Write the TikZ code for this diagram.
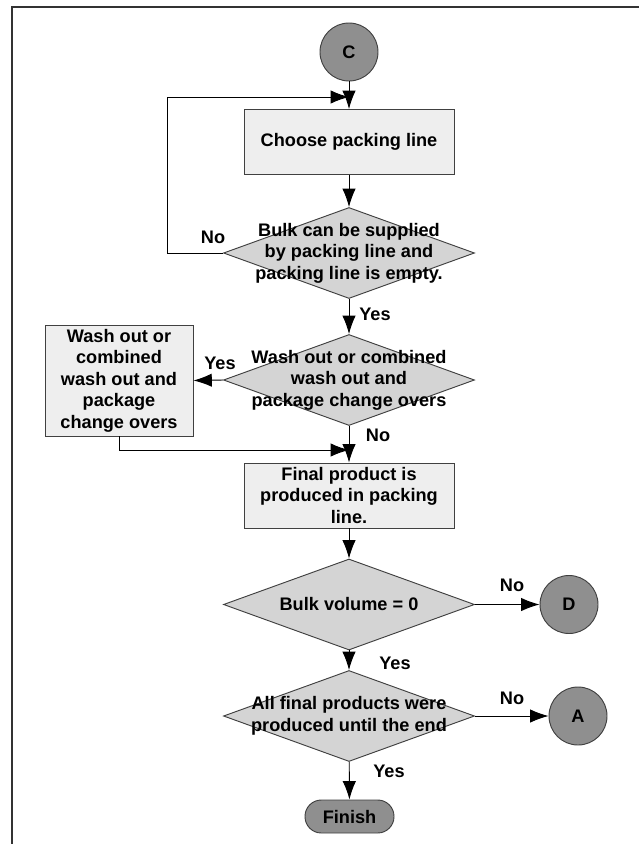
\documentclass[tikz,border=0pt]{standalone}
\usepackage{fontspec}
\setmainfont{Liberation Sans}
\usepackage{xcolor}
\usepackage{tikz}
\usetikzlibrary{shapes.geometric,arrows.meta}

\definecolor{conngray}{RGB}{143,143,143}
\definecolor{decgray}{RGB}{212,212,212}
\definecolor{boxgray}{RGB}{238,238,238}
\definecolor{edgegray}{RGB}{64,64,64}

\begin{document}
\begin{tikzpicture}[x=0.03cm, y=0.03cm,
    font=\fontsize{15.5pt}{18.4pt}\selectfont\bfseries,
    conn/.style={draw=edgegray, line width=0.8pt, circle, fill=conngray, minimum size=1.74cm, inner sep=0pt},
    procbox/.style={draw=edgegray, line width=0.8pt, fill=boxgray, minimum width=6.3cm, minimum height=1.95cm, align=center, inner sep=0pt},
    decision/.style={draw=edgegray, line width=0.8pt, diamond, fill=decgray, minimum width=7.53cm, minimum height=2.73cm, inner sep=0pt},
    txt/.style={align=center, inner sep=0pt},
    arr/.style={-{Latex[length=0.55cm, width=0.4cm]}, line width=0.8pt}]
            \useasboundingbox (0,0) rectangle (639,-844);
            \draw[line width=1.7pt, black!80] (12,-844) -- (12,-7) -- (639,-7);

            \node[conn] (c) at (349,-52) {C};
            \node[procbox] (choose) at (349,-142) {Choose packing line};
            \node[decision, label={[txt]center:{Bulk can be supplied\\by packing line and\\packing line is empty.}}] (supply) at (349,-253) {};
            \node[decision, label={[txt]center:{Wash out or combined\\wash out and\\package change overs}}] (washq) at (349,-380) {};
            \node[procbox, minimum width=4.44cm, minimum height=3.33cm] (wash) at (119,-380.5) {Wash out or\\combined\\wash out and\\package\\change overs};
            \node[procbox] (final) at (349,-495.5) {Final product is\\produced in packing\\line.};
            \node[decision, label={[txt]center:{Bulk volume = 0}}] (bulk) at (349,-604.5) {};
            \node[conn] (d) at (569,-604.5) {D};
            \node[decision, label={[txt]center:{All final products were\\produced until the end}}] (done) at (349,-716) {};
            \node[conn] (a) at (578,-716) {A};
            \node[draw=edgegray, line width=0.8pt, fill=conngray, rounded corners=0.49cm, minimum width=2.67cm, minimum height=0.99cm] (finish) at (349.5,-816.5) {Finish};

            \coordinate (j1) at (349,-97);
            \coordinate (j2) at (349,-450);

            \draw[arr] (c) -- (choose);
            \draw[arr] (choose) -- (supply);
            \draw[arr] (supply.west) -- ++(-56,0) |- (j1);
            \draw[arr] (supply) -- (washq);
            \draw[arr] (washq.west) -- (wash.east);
            \draw[arr] (washq) -- (final);
            \draw[arr] (wash.south) |- (j2);
            \draw[arr] (final) -- (bulk);
            \draw[arr] (bulk.east) -- (d);
            \draw[arr] (bulk) -- (done);
            \draw[arr] (done.east) -- (a);
            \draw[arr] (done) -- (finish);

            \node[txt] (no1) at (213,-237) {No};
            \node[txt] (yes1) at (375,-314) {Yes};
            \node[txt] (yes2) at (220,-363) {Yes};
            \node[txt] (no2) at (378,-435) {No};
            \node[txt] (no3) at (512,-585) {No};
            \node[txt] (yes3) at (395,-663) {Yes};
            \node[txt] (no4) at (512,-698) {No};
            \node[txt] (yes4) at (389,-771) {Yes};
        \end{tikzpicture}
\end{document}
